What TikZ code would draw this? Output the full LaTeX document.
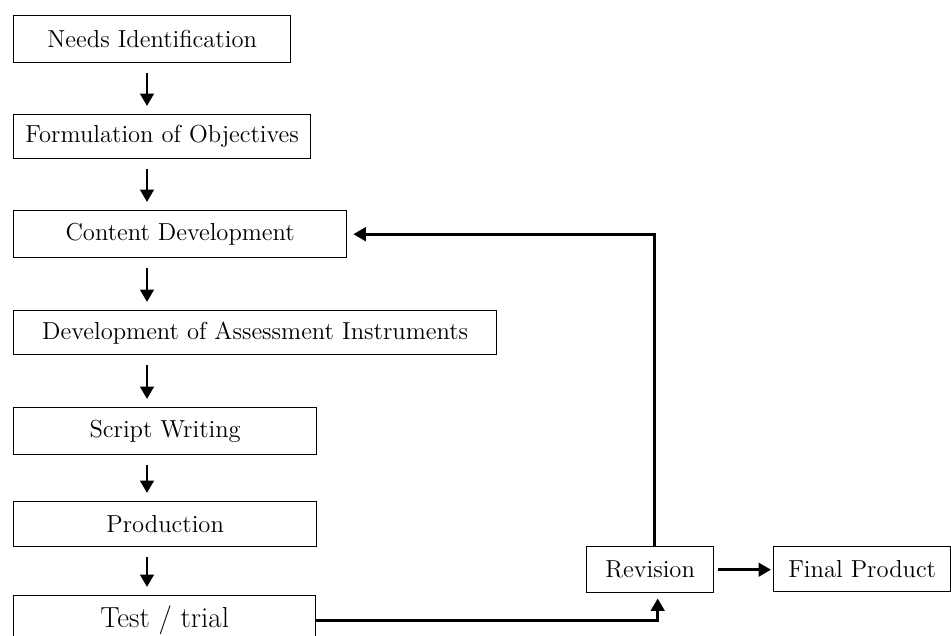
\documentclass[tikz,border=0pt]{standalone}
\usepackage{tikz}
\usetikzlibrary{arrows.meta, positioning, calc}

\begin{document}
\begin{tikzpicture}[x=0.02cm, y=-0.02cm,
    stage/.style={draw, line width=0.8pt, anchor=north west, inner sep=0pt,
      font=\fontsize{14}{16}\selectfont},
    flow/.style={line width=1.7pt, -{Triangle[length=0.25cm, width=0.27cm]}}]
  \useasboundingbox (0,0) rectangle (951,636);
  \clip (0,0) rectangle (951,636);

  % main column of stages
  \node[stage, minimum width=5.54cm, minimum height=0.94cm] (needs) at (13,15) {Needs Identification};
  \node[stage, minimum width=5.94cm, minimum height=0.88cm] (formul) at (13,114) {Formulation of Objectives};
  \node[stage, minimum width=6.66cm, minimum height=0.94cm] (content) at (13,210) {Content Development};
  \node[stage, minimum width=9.66cm, minimum height=0.88cm] (assess) at (13,310) {Development of Assessment Instruments};
  \node[stage, minimum width=6.06cm, minimum height=0.94cm] (script) at (13,407) {Script Writing};
  \node[stage, minimum width=6.06cm, minimum height=0.90cm] (prod) at (13,501) {Production};
  \node[stage, minimum width=6.04cm, minimum height=1.00cm,
    font=\fontsize{16.5}{18}\selectfont] (test) at (13,595) {Test / trial};

  % revision loop
  \node[stage, minimum width=2.54cm, minimum height=0.92cm] (revision) at (586,546) {Revision};
  \node[stage, minimum width=3.54cm, minimum height=0.90cm] (final) at (773,546) {Final Product};

  \coordinate (spine) at (147,0);
  \foreach \a/\b in {needs/formul, formul/content, content/assess, assess/script, script/prod, prod/test}
    \draw[flow, shorten <=0.2cm, shorten >=0.16cm] (\a.south -| spine) -- (\b.north -| spine);

  \draw[flow, shorten >=0.12cm] ([xshift=0.09cm]revision.north) |- (content.east);
  \draw[flow, shorten >=0.1cm] (test.east) -| ([xshift=0.15cm]revision.south);
  \draw[flow, shorten <=0.08cm, shorten >=0.04cm] (revision.east) -- (revision.east -| final.west);
\end{tikzpicture}
\end{document}
